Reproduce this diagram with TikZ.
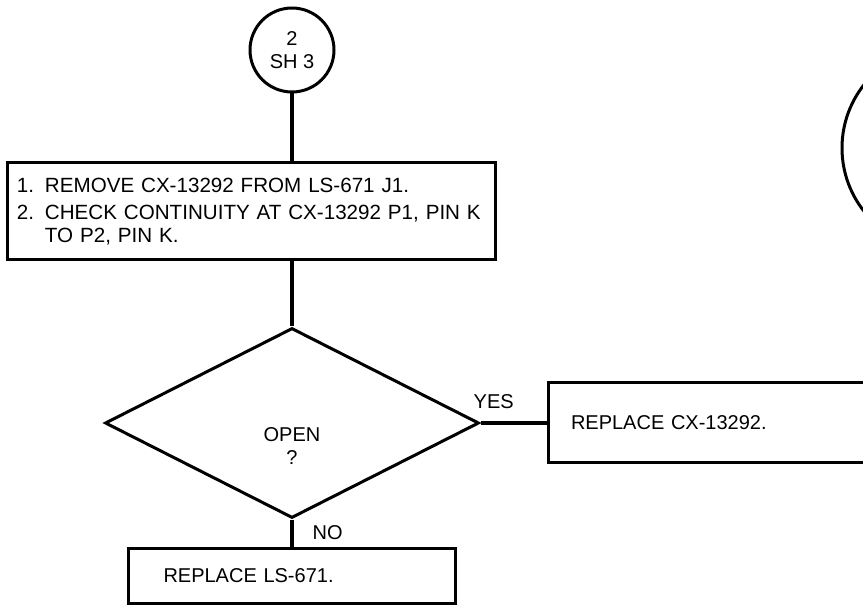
\documentclass[tikz,border=0pt]{standalone}
\usepackage{fontspec}
\setmainfont{Liberation Sans}
\usetikzlibrary{positioning,shapes.geometric}

\begin{document}
\begin{tikzpicture}[
    x=0.5pt, y=-0.5pt,
    font=\fontsize{10}{11.5}\selectfont,
    conn/.style={draw, circle, line width=1.5pt, minimum size=42pt, inner sep=0pt, align=center},
    box/.style={draw, rectangle, line width=1.5pt, align=left, inner ysep=0pt},
    decision/.style={draw, diamond, line width=1.5pt, inner sep=0pt, minimum width=187pt, minimum height=95pt},
    link/.style={line width=2pt}
  ]
    \useasboundingbox (0,0) rectangle (863,609);
    \clip (0,0) rectangle (863,609);

    \node[conn] (sheet) at (292,50) {2\\SH 3};
    \node[conn, minimum size=102pt] (offpage) at (944,148) {};
    \node[box, text width=234pt, inner xsep=5pt, minimum height=48.5pt,
          font=\fontsize{10.3}{11.4}\selectfont] (steps) at (251,211.5)
      {\makebox[14pt][l]{1.}REMOVE CX-13292 FROM LS-671 J1.\\[2pt]
       \makebox[14pt][l]{2.}CHECK CONTINUITY AT CX-13292 P1, PIN K\\
       \hspace*{14pt}TO P2, PIN K.};
    \node[decision, label={[yshift=-11.75pt, align=center]center:OPEN\\?}] (open) at (292,423) {};
    \node[box, right=33pt of open, text width=154.5pt, inner xsep=11.5pt, minimum height=40pt] (yesbox) {REPLACE CX-13292.};
    \node[box, below=13.5pt of open, text width=128.5pt, inner xsep=17.5pt, minimum height=27.5pt] (nobox) {REPLACE LS-671.};

    \draw[link] (sheet.south) -- (sheet.south |- steps.north);
    \draw[link] (open.north |- steps.south) -- (open.north);
    \draw[link] (open.east) -- node[above, pos=0.2, yshift=3pt] {YES} (yesbox.west);
    \draw[link] (open.south) -- node[right, xshift=6pt] {NO} (nobox.north);
\end{tikzpicture}
\end{document}
